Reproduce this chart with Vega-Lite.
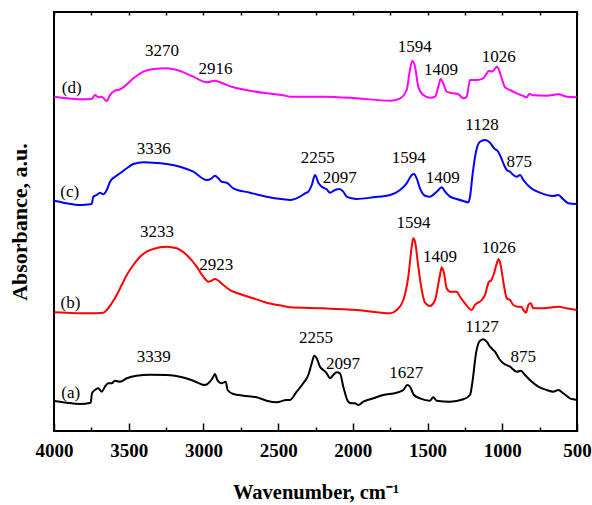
{
  "$schema": "https://vega.github.io/schema/vega-lite/v6.json",
  "autosize": "none",
  "width": 523,
  "height": 419,
  "padding": {"left": 54, "top": 12, "right": 15, "bottom": 74},
  "background": "white",
  "config": {
    "view": {"stroke": "black", "strokeWidth": 2},
    "axis": {"grid": false, "domain": false}
  },
  "datasets": {
    "curves": [
      {"s":"d","w":3998,"a":336.3},{"s":"d","w":3915,"a":334.7},{"s":"d","w":3826,"a":333.7},{"s":"d","w":3748,"a":334},{"s":"d","w":3726,"a":338},{"s":"d","w":3704,"a":335.7},{"s":"d","w":3681,"a":336.3},{"s":"d","w":3647,"a":332},{"s":"d","w":3625,"a":338},{"s":"d","w":3592,"a":342.3},{"s":"d","w":3558,"a":343.7},{"s":"d","w":3525,"a":347},{"s":"d","w":3469,"a":354.7},{"s":"d","w":3402,"a":361.3},{"s":"d","w":3336,"a":364},{"s":"d","w":3246,"a":364.7},{"s":"d","w":3157,"a":362},{"s":"d","w":3068,"a":356.3},{"s":"d","w":2978,"a":350.7},{"s":"d","w":2923,"a":352.3},{"s":"d","w":2889,"a":350.7},{"s":"d","w":2800,"a":345.7},{"s":"d","w":2688,"a":342.3},{"s":"d","w":2577,"a":339.7},{"s":"d","w":2465,"a":337.7},{"s":"d","w":2421,"a":336.3},{"s":"d","w":2198,"a":336.3},{"s":"d","w":1974,"a":334.7},{"s":"d","w":1751,"a":332.3},{"s":"d","w":1684,"a":334.7},{"s":"d","w":1640,"a":343},{"s":"d","w":1618,"a":363},{"s":"d","w":1602,"a":372.3},{"s":"d","w":1584,"a":366.3},{"s":"d","w":1562,"a":346.3},{"s":"d","w":1529,"a":338},{"s":"d","w":1484,"a":335.3},{"s":"d","w":1450,"a":336.3},{"s":"d","w":1428,"a":346.3},{"s":"d","w":1412,"a":354},{"s":"d","w":1395,"a":349.7},{"s":"d","w":1372,"a":341.3},{"s":"d","w":1328,"a":339.7},{"s":"d","w":1294,"a":338.7},{"s":"d","w":1261,"a":334.7},{"s":"d","w":1238,"a":336.3},{"s":"d","w":1216,"a":353},{"s":"d","w":1198,"a":353},{"s":"d","w":1171,"a":353},{"s":"d","w":1127,"a":354.7},{"s":"d","w":1104,"a":359.7},{"s":"d","w":1087,"a":362.3},{"s":"d","w":1071,"a":361.3},{"s":"d","w":1055,"a":363},{"s":"d","w":1037,"a":366.3},{"s":"d","w":1027,"a":364.7},{"s":"d","w":1004,"a":354.7},{"s":"d","w":982,"a":345.7},{"s":"d","w":948,"a":343},{"s":"d","w":903,"a":339.7},{"s":"d","w":859,"a":337},{"s":"d","w":837,"a":335.7},{"s":"d","w":819,"a":339},{"s":"d","w":792,"a":337.7},{"s":"d","w":703,"a":337.3},{"s":"d","w":625,"a":338.7},{"s":"d","w":569,"a":336.3},{"s":"d","w":502,"a":335.7},

      {"s":"c","w":3998,"a":232.3},{"s":"c","w":3915,"a":229.7},{"s":"c","w":3826,"a":228},{"s":"c","w":3748,"a":229},{"s":"c","w":3737,"a":236.3},{"s":"c","w":3714,"a":238},{"s":"c","w":3692,"a":240.3},{"s":"c","w":3670,"a":238.7},{"s":"c","w":3647,"a":243},{"s":"c","w":3625,"a":251.3},{"s":"c","w":3592,"a":256.3},{"s":"c","w":3558,"a":259.7},{"s":"c","w":3513,"a":264.7},{"s":"c","w":3469,"a":269},{"s":"c","w":3402,"a":270.7},{"s":"c","w":3336,"a":270.3},{"s":"c","w":3246,"a":269},{"s":"c","w":3157,"a":266.3},{"s":"c","w":3068,"a":261.3},{"s":"c","w":2978,"a":253},{"s":"c","w":2945,"a":254.7},{"s":"c","w":2923,"a":257.3},{"s":"c","w":2900,"a":254.7},{"s":"c","w":2878,"a":251.3},{"s":"c","w":2844,"a":250.3},{"s":"c","w":2800,"a":244.7},{"s":"c","w":2688,"a":240.3},{"s":"c","w":2577,"a":236.3},{"s":"c","w":2465,"a":233.7},{"s":"c","w":2421,"a":233},{"s":"c","w":2354,"a":236.3},{"s":"c","w":2320,"a":239.7},{"s":"c","w":2298,"a":241.3},{"s":"c","w":2275,"a":248},{"s":"c","w":2253,"a":258},{"s":"c","w":2231,"a":250.3},{"s":"c","w":2208,"a":246.3},{"s":"c","w":2175,"a":243.7},{"s":"c","w":2153,"a":240.3},{"s":"c","w":2120,"a":243},{"s":"c","w":2091,"a":244},{"s":"c","w":2064,"a":241.3},{"s":"c","w":2041,"a":236.3},{"s":"c","w":2008,"a":234.7},{"s":"c","w":1974,"a":234},{"s":"c","w":1863,"a":235.7},{"s":"c","w":1751,"a":238},{"s":"c","w":1684,"a":243},{"s":"c","w":1640,"a":249.7},{"s":"c","w":1606,"a":258},{"s":"c","w":1591,"a":259},{"s":"c","w":1573,"a":254.7},{"s":"c","w":1551,"a":244.7},{"s":"c","w":1517,"a":237.3},{"s":"c","w":1484,"a":236.3},{"s":"c","w":1439,"a":241.3},{"s":"c","w":1405,"a":245.7},{"s":"c","w":1383,"a":241.3},{"s":"c","w":1350,"a":236.3},{"s":"c","w":1305,"a":234},{"s":"c","w":1261,"a":232},{"s":"c","w":1227,"a":230.7},{"s":"c","w":1216,"a":236.3},{"s":"c","w":1198,"a":259.7},{"s":"c","w":1176,"a":281.3},{"s":"c","w":1149,"a":291.3},{"s":"c","w":1116,"a":293},{"s":"c","w":1082,"a":290.3},{"s":"c","w":1055,"a":284.7},{"s":"c","w":1027,"a":281.3},{"s":"c","w":1011,"a":276.3},{"s":"c","w":993,"a":269.7},{"s":"c","w":970,"a":263},{"s":"c","w":948,"a":261.3},{"s":"c","w":926,"a":258},{"s":"c","w":903,"a":256.3},{"s":"c","w":881,"a":258},{"s":"c","w":859,"a":253},{"s":"c","w":815,"a":245.7},{"s":"c","w":748,"a":240.3},{"s":"c","w":659,"a":237},{"s":"c","w":625,"a":238},{"s":"c","w":592,"a":233.7},{"s":"c","w":558,"a":229.7},{"s":"c","w":502,"a":229},

      {"s":"b","w":3998,"a":120.7},{"s":"b","w":3915,"a":120.3},{"s":"b","w":3826,"a":119.7},{"s":"b","w":3759,"a":119.7},{"s":"b","w":3670,"a":120.3},{"s":"b","w":3647,"a":123},{"s":"b","w":3614,"a":129.7},{"s":"b","w":3580,"a":138},{"s":"b","w":3547,"a":148},{"s":"b","w":3513,"a":158},{"s":"b","w":3469,"a":168},{"s":"b","w":3424,"a":176.3},{"s":"b","w":3380,"a":181.3},{"s":"b","w":3336,"a":184},{"s":"b","w":3246,"a":186.3},{"s":"b","w":3179,"a":184.7},{"s":"b","w":3112,"a":178},{"s":"b","w":3045,"a":166.3},{"s":"b","w":3001,"a":156.3},{"s":"b","w":2967,"a":151.3},{"s":"b","w":2945,"a":152.3},{"s":"b","w":2923,"a":154},{"s":"b","w":2900,"a":152.3},{"s":"b","w":2867,"a":148},{"s":"b","w":2811,"a":142},{"s":"b","w":2755,"a":139},{"s":"b","w":2666,"a":134.7},{"s":"b","w":2577,"a":130.3},{"s":"b","w":2465,"a":127},{"s":"b","w":2421,"a":125.7},{"s":"b","w":2198,"a":124.7},{"s":"b","w":1974,"a":123},{"s":"b","w":1751,"a":119.7},{"s":"b","w":1707,"a":123},{"s":"b","w":1662,"a":133},{"s":"b","w":1629,"a":156.3},{"s":"b","w":1606,"a":186.3},{"s":"b","w":1596,"a":194.7},{"s":"b","w":1584,"a":191.3},{"s":"b","w":1562,"a":166.3},{"s":"b","w":1539,"a":143},{"s":"b","w":1517,"a":130.3},{"s":"b","w":1484,"a":127},{"s":"b","w":1450,"a":133},{"s":"b","w":1417,"a":158},{"s":"b","w":1405,"a":165.7},{"s":"b","w":1390,"a":159.7},{"s":"b","w":1372,"a":144.7},{"s":"b","w":1350,"a":141.3},{"s":"b","w":1305,"a":141.3},{"s":"b","w":1283,"a":136.3},{"s":"b","w":1250,"a":129.7},{"s":"b","w":1205,"a":123},{"s":"b","w":1183,"a":128},{"s":"b","w":1138,"a":133},{"s":"b","w":1116,"a":138},{"s":"b","w":1089,"a":151.3},{"s":"b","w":1076,"a":152.3},{"s":"b","w":1055,"a":159.7},{"s":"b","w":1037,"a":169.7},{"s":"b","w":1024,"a":174},{"s":"b","w":1011,"a":168},{"s":"b","w":993,"a":151.3},{"s":"b","w":970,"a":134.7},{"s":"b","w":948,"a":133},{"s":"b","w":926,"a":128},{"s":"b","w":893,"a":126.3},{"s":"b","w":875,"a":126.3},{"s":"b","w":859,"a":123},{"s":"b","w":841,"a":120.3},{"s":"b","w":826,"a":128},{"s":"b","w":810,"a":129.7},{"s":"b","w":792,"a":124.7},{"s":"b","w":725,"a":124.7},{"s":"b","w":625,"a":126.3},{"s":"b","w":569,"a":124.7},{"s":"b","w":502,"a":123},

      {"s":"a","w":3998,"a":32},{"s":"a","w":3915,"a":30.3},{"s":"a","w":3826,"a":29},{"s":"a","w":3754,"a":30.3},{"s":"a","w":3746,"a":39.7},{"s":"a","w":3726,"a":43},{"s":"a","w":3704,"a":44.7},{"s":"a","w":3681,"a":41.3},{"s":"a","w":3659,"a":46.3},{"s":"a","w":3637,"a":49.7},{"s":"a","w":3614,"a":49.7},{"s":"a","w":3592,"a":52.3},{"s":"a","w":3558,"a":51.3},{"s":"a","w":3513,"a":54.7},{"s":"a","w":3447,"a":57.3},{"s":"a","w":3358,"a":58.3},{"s":"a","w":3246,"a":58},{"s":"a","w":3157,"a":56.3},{"s":"a","w":3068,"a":52.3},{"s":"a","w":2990,"a":48},{"s":"a","w":2956,"a":51.3},{"s":"a","w":2934,"a":56.3},{"s":"a","w":2923,"a":59},{"s":"a","w":2907,"a":53},{"s":"a","w":2878,"a":49.7},{"s":"a","w":2851,"a":51.3},{"s":"a","w":2838,"a":43},{"s":"a","w":2800,"a":39},{"s":"a","w":2733,"a":37.3},{"s":"a","w":2644,"a":35.7},{"s":"a","w":2577,"a":32.3},{"s":"a","w":2510,"a":30.7},{"s":"a","w":2443,"a":33},{"s":"a","w":2421,"a":33},{"s":"a","w":2376,"a":41.3},{"s":"a","w":2332,"a":49.7},{"s":"a","w":2298,"a":58},{"s":"a","w":2275,"a":69.7},{"s":"a","w":2258,"a":77.3},{"s":"a","w":2242,"a":74.7},{"s":"a","w":2220,"a":66.3},{"s":"a","w":2198,"a":63},{"s":"a","w":2175,"a":59.7},{"s":"a","w":2153,"a":54.7},{"s":"a","w":2131,"a":58},{"s":"a","w":2108,"a":60.7},{"s":"a","w":2086,"a":59.7},{"s":"a","w":2064,"a":46.3},{"s":"a","w":2031,"a":31.3},{"s":"a","w":2008,"a":29.7},{"s":"a","w":1986,"a":29.7},{"s":"a","w":1964,"a":28},{"s":"a","w":1930,"a":31.3},{"s":"a","w":1863,"a":34.7},{"s":"a","w":1796,"a":38},{"s":"a","w":1707,"a":40.3},{"s":"a","w":1662,"a":43},{"s":"a","w":1636,"a":48},{"s":"a","w":1618,"a":46.3},{"s":"a","w":1591,"a":38},{"s":"a","w":1551,"a":34.7},{"s":"a","w":1484,"a":32.3},{"s":"a","w":1462,"a":35.7},{"s":"a","w":1439,"a":32.3},{"s":"a","w":1350,"a":31.3},{"s":"a","w":1261,"a":33.7},{"s":"a","w":1216,"a":38},{"s":"a","w":1198,"a":53},{"s":"a","w":1176,"a":79.7},{"s":"a","w":1149,"a":92.3},{"s":"a","w":1127,"a":93.7},{"s":"a","w":1104,"a":91.3},{"s":"a","w":1082,"a":86.3},{"s":"a","w":1049,"a":81.3},{"s":"a","w":1015,"a":73},{"s":"a","w":993,"a":69.7},{"s":"a","w":948,"a":66.3},{"s":"a","w":903,"a":61.3},{"s":"a","w":875,"a":62.3},{"s":"a","w":848,"a":58},{"s":"a","w":815,"a":53},{"s":"a","w":759,"a":46.3},{"s":"a","w":703,"a":43},{"s":"a","w":659,"a":41.3},{"s":"a","w":625,"a":43},{"s":"a","w":592,"a":39.7},{"s":"a","w":547,"a":34.7},{"s":"a","w":525,"a":33.7},{"s":"a","w":502,"a":33}
    ],
    "labels": [
      {"t":"3270","w":3277,"a":377},{"t":"2916","w":2920,"a":359},{"t":"1594","w":1586,"a":381.3},{"t":"1409","w":1410,"a":358},{"t":"1026","w":1024,"a":371.3},{"t":"(d)","w":3882,"a":339.7},
      {"t":"3336","w":3333,"a":279},{"t":"2255","w":2235,"a":269.7},{"t":"2097","w":2088,"a":249.7},{"t":"1594","w":1626,"a":269.7},{"t":"1409","w":1399,"a":249.7},{"t":"1128","w":1136,"a":303},{"t":"875","w":887,"a":266.3},{"t":"(c)","w":3895,"a":236.3},
      {"t":"3233","w":3311,"a":196.3},{"t":"2923","w":2915,"a":163},{"t":"1594","w":1595,"a":204.7},{"t":"1409","w":1417,"a":171.3},{"t":"1026","w":1024,"a":180.3},{"t":"(b)","w":3890,"a":124.7},
      {"t":"3339","w":3333,"a":71.3},{"t":"2255","w":2247,"a":89.7},{"t":"2097","w":2066,"a":63.7},{"t":"1627","w":1642,"a":54.7},{"t":"1127","w":1136,"a":101.3},{"t":"875","w":860,"a":71.3},{"t":"(a)","w":3888,"a":34.7}
    ]
  },
  "layer": [
    {
      "data": {"name": "curves"},
      "transform": [{"filter": "datum.s === 'a'"}],
      "mark": {"type": "line", "strokeWidth": 2, "interpolate": "monotone", "color": "#000000"},
      "encoding": {
        "x": {
          "field": "w", "type": "quantitative",
          "scale": {"domain": [500, 4000], "reverse": true, "nice": false, "zero": false},
          "axis": {
            "orient": "bottom",
            "values": [3750,3250,2750,2250,1750,1250,750],
            "labels": false,
            "tickSize": -4, "tickColor": "black", "tickWidth": 1.5,
            "title": null
          }
        },
        "y": {
          "field": "a", "type": "quantitative",
          "scale": {"domain": [2, 421], "nice": false, "zero": false},
          "axis": {
            "title": "Absorbance, a.u.",
            "labels": false, "ticks": false, "domain": false, "grid": false,
            "titleFont": "Liberation Serif", "titleFontWeight": "bold", "titleFontSize": 22, "titleColor": "black",
            "titlePadding": 23
          }
        }
      }
    },
    {
      "data": {"name": "curves"},
      "transform": [{"filter": "datum.s === 'b'"}],
      "mark": {"type": "line", "strokeWidth": 2, "interpolate": "monotone", "color": "#FF0000"},
      "encoding": {
        "x": {
          "field": "w", "type": "quantitative",
          "scale": {"domain": [500, 4000], "reverse": true, "nice": false, "zero": false},
          "axis": {
            "orient": "bottom",
            "values": [4000,3500,3000,2500,2000,1500,1000,500],
            "format": "d",
            "tickSize": -8, "tickColor": "black", "tickWidth": 1.5,
            "labelFont": "Liberation Serif", "labelFontWeight": "bold", "labelFontSize": 19, "labelColor": "black",
            "labelPadding": 18,
            "labelFlush": false, "labelOverlap": false,
            "title": "Wavenumber, cm⁻¹",
            "titleFont": "Liberation Serif", "titleFontWeight": "bold", "titleFontSize": 20.5, "titleColor": "black",
            "titlePadding": 22
          }
        },
        "y": {"field": "a", "type": "quantitative", "scale": {"domain": [2, 421], "nice": false, "zero": false}, "axis": null}
      }
    },
    {
      "data": {"name": "curves"},
      "transform": [{"filter": "datum.s === 'c'"}],
      "mark": {"type": "line", "strokeWidth": 2, "interpolate": "monotone", "color": "#0000FF"},
      "encoding": {
        "x": {
          "field": "w", "type": "quantitative",
          "scale": {"domain": [500, 4000], "reverse": true, "nice": false, "zero": false},
          "axis": {
            "orient": "top",
            "values": [4000,3750,3500,3250,3000,2750,2500,2250,2000,1750,1500,1250,1000,750,500],
            "labels": false,
            "tickSize": -3, "tickColor": "black", "tickWidth": 1.5,
            "title": null
          }
        },
        "y": {"field": "a", "type": "quantitative", "scale": {"domain": [2, 421], "nice": false, "zero": false}, "axis": null}
      }
    },
    {
      "data": {"name": "curves"},
      "transform": [{"filter": "datum.s === 'd'"}],
      "mark": {"type": "line", "strokeWidth": 2, "interpolate": "monotone", "color": "#FF00FF"},
      "encoding": {
        "x": {"field": "w", "type": "quantitative", "scale": {"domain": [500, 4000], "reverse": true, "nice": false, "zero": false}, "axis": null},
        "y": {"field": "a", "type": "quantitative", "scale": {"domain": [2, 421], "nice": false, "zero": false}, "axis": null}
      }
    },
    {
      "data": {"name": "labels"},
      "mark": {"type": "text", "font": "Liberation Serif", "fontSize": 17, "color": "black", "align": "center", "baseline": "alphabetic"},
      "encoding": {
        "x": {"field": "w", "type": "quantitative", "axis": null},
        "y": {"field": "a", "type": "quantitative", "axis": null},
        "text": {"field": "t", "type": "nominal"}
      }
    }
  ],
  "resolve": {"axis": {"x": "independent", "y": "independent"}}
}
